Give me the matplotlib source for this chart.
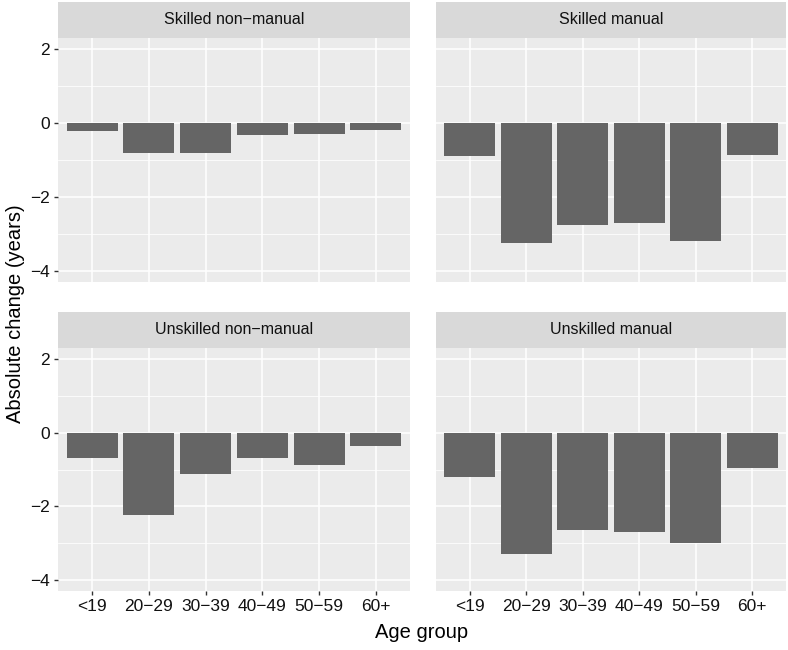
import matplotlib
matplotlib.use("Agg")
from matplotlib import pyplot as plt

plt.rcParams['font.family'] = ['Liberation Sans', 'DejaVu Sans']

age_groups = ["<19", "20\u221229", "30\u221239", "40\u221249", "50\u221259", "60+"]
panels = ["Skilled non\u2212manual", "Skilled manual",
          "Unskilled non\u2212manual", "Unskilled manual"]
skilled_nonmanual = [-0.22, -0.82, -0.82, -0.32, -0.29, -0.18]
skilled_manual = [-0.89, -3.25, -2.75, -2.71, -3.20, -0.87]
unskilled_nonmanual = [-0.69, -2.24, -1.12, -0.69, -0.88, -0.37]
unskilled_manual = [-1.20, -3.30, -2.65, -2.71, -2.99, -0.95]
values = [skilled_nonmanual, skilled_manual, unskilled_nonmanual, unskilled_manual]

W, H = 788, 650
fig = plt.figure(figsize=(W / 100, H / 100), dpi=100)

# panel boxes in pixels: left, top, right, bottom
cols = [(58, 410), (436, 786)]
rows = [(38, 282), (348, 591)]
strip_h = 36

def px_axes(l, t, r, b):
    return fig.add_axes([l / W, 1 - b / H, (r - l) / W, (b - t) / H])

for i, (name, vals) in enumerate(zip(panels, values)):
    row, col = divmod(i, 2)
    l, r = cols[col]
    t, b = rows[row]
    ax = px_axes(l, t, r, b)
    ax.set_facecolor("#EBEBEB")
    x = list(range(1, len(age_groups) + 1))
    ax.bar(x, vals, width=0.9, color="#656565", zorder=3)
    ax.set_xlim(0.4, 6.6)
    ax.set_ylim(-4.3, 2.3)
    ax.set_yticks([-4, -2, 0, 2])
    ax.set_yticks([-3, -1, 1], minor=True)
    ax.set_xticks(x)
    ax.grid(which="major", color="white", linewidth=1.1, zorder=1)
    ax.grid(which="minor", axis="y", color="white", linewidth=0.55, zorder=1)
    ax.tick_params(which="minor", length=0)
    ax.tick_params(which="major", length=3, width=1, color="#333333",
                   labelsize=12.5, labelcolor="#111111", pad=3)
    for s in ax.spines.values():
        s.set_visible(False)
    if col == 0:
        ax.set_yticklabels(["\u22124", "\u22122", "0", "2"])
    else:
        ax.tick_params(axis="y", left=False, labelleft=False)
    if row == 1:
        ax.set_xticklabels(age_groups)
    else:
        ax.tick_params(axis="x", bottom=False, labelbottom=False)

    sax = px_axes(l, t - strip_h, r, t)
    sax.set_facecolor("#D9D9D9")
    sax.set_xticks([])
    sax.set_yticks([])
    for s in sax.spines.values():
        s.set_visible(False)
    sax.text(0.5, 0.5, name, ha="center", va="center", fontsize=11.5,
             color="#111111", transform=sax.transAxes)

fig.text(422 / W, 1 - 633 / H, "Age group", ha="center", va="center", fontsize=14.5)
fig.text(16 / W, 1 - 314 / H, "Absolute change (years)", ha="center", va="center",
         rotation=90, fontsize=14.5)

fig.savefig("out.png", dpi=100)
